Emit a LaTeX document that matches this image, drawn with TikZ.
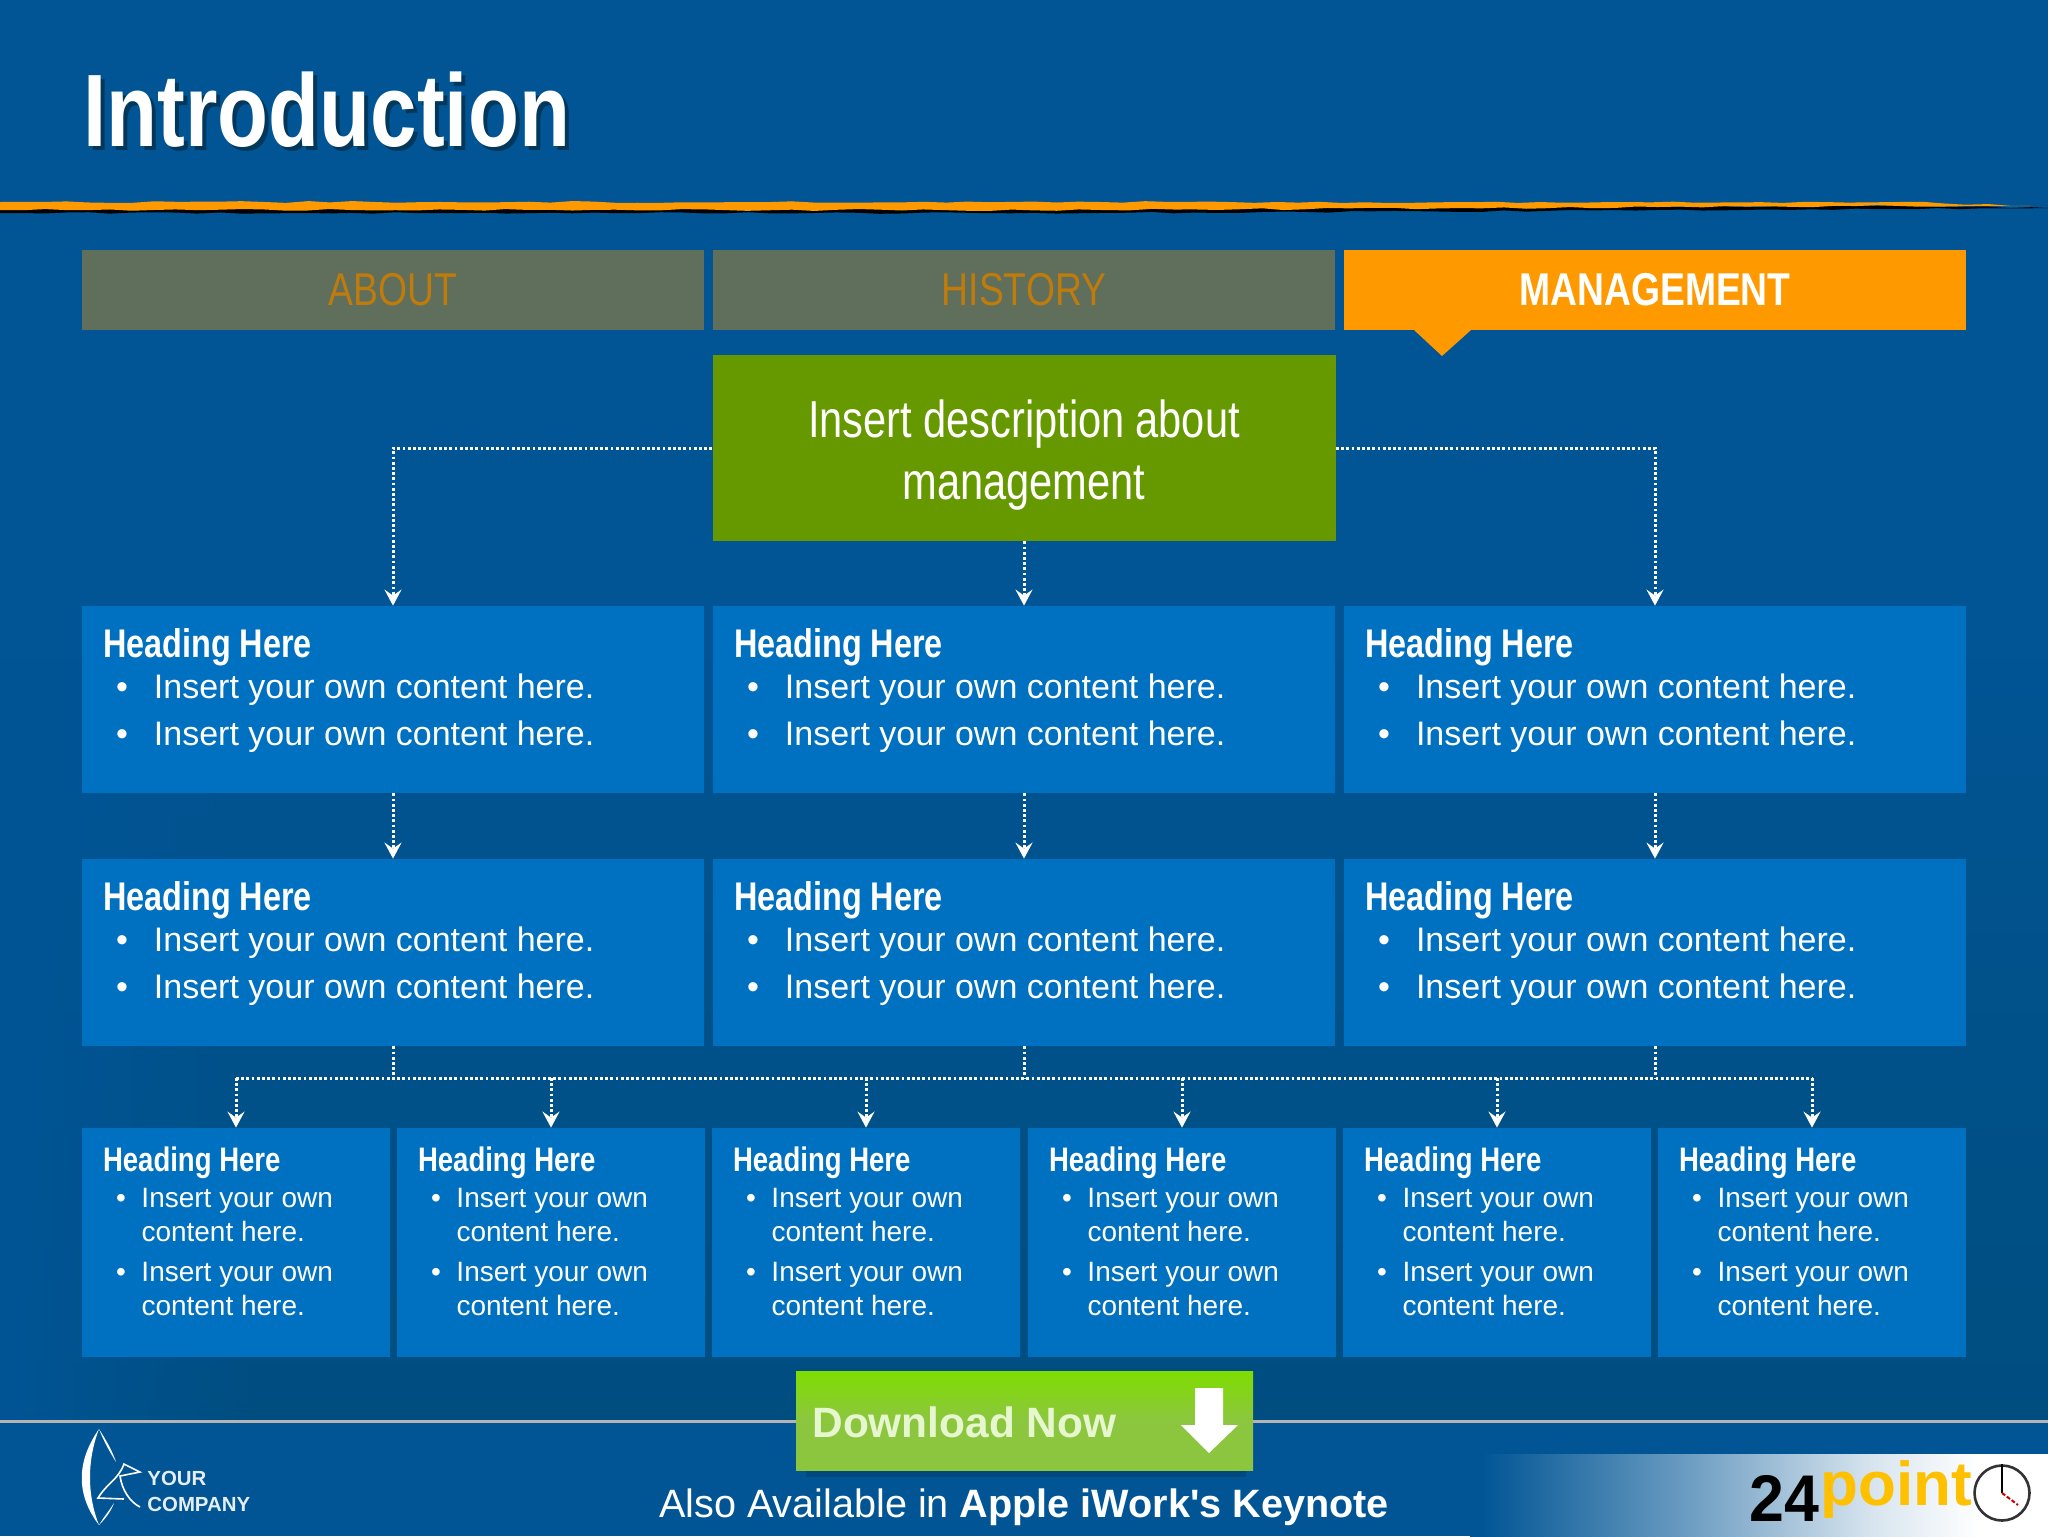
\documentclass[tikz,border=0pt]{standalone}
\usepackage{fontspec}
\usepackage{xcolor}
\usetikzlibrary{arrows.meta, decorations.pathmorphing, fadings}
\setmainfont{Liberation Sans}
\newfontfamily\estrecha[FakeStretch=0.81]{Liberation Sans}
\newfontfamily\masestrecha[FakeStretch=0.80]{Liberation Sans}
\newfontfamily\pocoestrecha[FakeStretch=0.95]{Liberation Sans}
\definecolor{fondo}{HTML}{015595}
\definecolor{fondoosc}{HTML}{004E80}
\definecolor{azulcaja}{HTML}{0070C0}
\definecolor{naranja}{HTML}{FF9900}
\definecolor{gristab}{HTML}{5F6F5C}
\definecolor{textotab}{HTML}{BF7B0C}
\definecolor{verde}{HTML}{669900}
\definecolor{verdearriba}{HTML}{7FDD00}
\definecolor{verdeabajo}{HTML}{8CC63F}
\definecolor{textoboton}{HTML}{E6F6CE}
\definecolor{lineagris}{HTML}{B4B4B4}
\definecolor{amarillo}{HTML}{FFC000}
\colorlet{medio}{fondo!60!white}
\colorlet{claro}{fondo!15!white}
\pgfdeclarehorizontalshading{degradado}{100bp}{color(0bp)=(fondo); color(26bp)=(fondo); color(43bp)=(medio); color(60bp)=(claro); color(69bp)=(white); color(100bp)=(white)}

% --- Texto de las cajas ---
\newlength{\sangria}
\newcommand{\punto}[2]{\par\setlength{\sangria}{#1}\hangindent=\sangria\hangafter=1\noindent\makebox[\sangria][l]{\hspace{6.5pt}\textbullet}#2}
\newcommand{\textocaja}{%
  \fontsize{17}{20.5}\selectfont
  {\rule{0pt}{25.5pt}\estrecha\bfseries\fontsize{20}{20.5}\selectfont Heading Here}%
  \punto{25.5pt}{Insert your own content here.}%
  \parskip=3pt
  \punto{25.5pt}{Insert your own content here.}\par}
\newcommand{\textohoja}{%
  \fontsize{14}{17}\selectfont
  {\rule{0pt}{21.5pt}\estrecha\bfseries\fontsize{17}{17}\selectfont Heading Here}%
  \parskip=1pt
  \punto{19.25pt}{Insert your own\newline content here.}%
  \parskip=3pt
  \punto{19.25pt}{Insert your own\newline content here.}\par}

\begin{document}
\begin{tikzpicture}[
  x=0.5pt, y=-0.5pt,
  pestana/.style={rectangle, fill=gristab, text=textotab, minimum width=311pt, minimum height=40pt,
                 inner sep=0pt, font=\estrecha\fontsize{23}{26}\selectfont},
  desc/.style={rectangle, fill=verde, text=white, minimum width=311.5pt, minimum height=93pt,
                 text width=300pt, align=center, inner sep=0pt, font=\masestrecha\fontsize{26}{31}\selectfont},
  caja/.style={rectangle, fill=azulcaja, text=white, inner xsep=10.5pt, inner ysep=0pt},
  hoja/.style={rectangle, fill=azulcaja, text=white, inner xsep=10.5pt, inner ysep=0pt},
  arr/.style={-{Stealth[length=8pt, width=8.5pt, inset=3pt]}, white, line width=1.5pt, dash pattern=on 1.4pt off 1.2pt},
  lin/.style={white, line width=1.5pt, dash pattern=on 1.4pt off 1.2pt},
]

\useasboundingbox (0,0) rectangle (2048,1536);

% --- Fondo ---
\fill[fondo] (0,0) rectangle (2048,1536);
\shade[top color=fondo, bottom color=fondoosc] (0,600) rectangle (2048,1421);
\fill[fondo, path fading=east] (0,700) rectangle (260,1421);
\shade[shading=degradado] (1470,1454) rectangle (2048,1536);
\draw[lineagris, line width=1.5pt] (0,1421) -- (2048,1421);

% --- Titulo y raya ---
\node[anchor=base west, inner sep=0pt, text=white, font=\estrecha\bfseries\fontsize{51.5}{60}\selectfont] (titulo) at (83,146)
  {\rlap{\textcolor{fondoosc!70!black}{\hspace{2pt}\raisebox{-2pt}{Introduction}}}Introduction};
\pgfmathsetseed{24}
\fill[black, decorate, decoration={random steps, segment length=11pt, amplitude=0.4pt}]
  (0,208) -- (1100,208) -- (1900,206) -- (2048,208) -- (1900,209) -- (1100,213) -- (0,213) -- cycle;
\fill[naranja, decorate, decoration={random steps, segment length=11pt, amplitude=0.5pt}]
  (0,202) -- (1100,202) -- (1900,202) -- (2030,206) -- (1900,206) -- (1100,210) -- (0,210) -- cycle;

% --- Pestanas ---
\node[pestana] (about) at (393,290) {ABOUT};
\node[pestana] (history) at (1024,290) {HISTORY};
\node[pestana, fill=naranja, text=white, font=\estrecha\bfseries\fontsize{23}{26}\selectfont] (management) at (1655,290) {MANAGEMENT};
\fill[naranja] (1414,330) -- (1471,330) -- (1442,356) -- cycle;

% --- Descripcion ---
\node[desc] (descr) at (1024,448) {\spaceskip=5.6pt\rule{0pt}{25.5pt}Insert description about\\management};

% --- Primera fila ---
\node[caja] (c1) at (393,699.5) {\parbox[c][93.5pt][t]{290pt}{\textocaja}};
\node[caja] (c2) at (1024,699.5) {\parbox[c][93.5pt][t]{290pt}{\textocaja}};
\node[caja] (c3) at (1655,699.5) {\parbox[c][93.5pt][t]{290pt}{\textocaja}};

% --- Segunda fila ---
\node[caja] (d1) at (393,952.5) {\parbox[c][93.5pt][t]{290pt}{\textocaja}};
\node[caja] (d2) at (1024,952.5) {\parbox[c][93.5pt][t]{290pt}{\textocaja}};
\node[caja] (d3) at (1655,952.5) {\parbox[c][93.5pt][t]{290pt}{\textocaja}};

% --- Hojas ---
\node[hoja] (h1) at (236,1242.5) {\parbox[c][114.5pt][t]{133pt}{\textohoja}};
\node[hoja] (h2) at (551,1242.5) {\parbox[c][114.5pt][t]{133pt}{\textohoja}};
\node[hoja] (h3) at (866,1242.5) {\parbox[c][114.5pt][t]{133pt}{\textohoja}};
\node[hoja] (h4) at (1182,1242.5) {\parbox[c][114.5pt][t]{133pt}{\textohoja}};
\node[hoja] (h5) at (1497,1242.5) {\parbox[c][114.5pt][t]{133pt}{\textohoja}};
\node[hoja] (h6) at (1812,1242.5) {\parbox[c][114.5pt][t]{133pt}{\textohoja}};

% --- Enlaces desde la descripcion ---
\draw[arr] (descr.west) -| (c1.north);
\draw[arr] (descr.south) -- (c2.north);
\draw[arr] (descr.east) -| (c3.north);

% --- Enlaces entre filas ---
\draw[arr] (c1) -- (d1);
\draw[arr] (c2) -- (d2);
\draw[arr] (c3) -- (d3);

% --- Barra hacia las hojas ---
\coordinate (bus) at (1024,1078);
\draw[lin] (d1.south) -- (d1.south |- bus);
\draw[lin] (d2.south) -- (d2.south |- bus);
\draw[lin] (d3.south) -- (d3.south |- bus);
\draw[lin] (h1.north |- bus) -- (h6.north |- bus);
\draw[arr] (h1.north |- bus) -- (h1.north);
\draw[arr] (h2.north |- bus) -- (h2.north);
\draw[arr] (h3.north |- bus) -- (h3.north);
\draw[arr] (h4.north |- bus) -- (h4.north);
\draw[arr] (h5.north |- bus) -- (h5.north);
\draw[arr] (h6.north |- bus) -- (h6.north);

% --- Boton ---
\fill[fondoosc!75!black, opacity=0.45] (806,1470) rectangle (1246,1477);
\shade[top color=verdearriba, bottom color=verdeabajo, middle color=verdeabajo] (796,1371) rectangle (1253,1470);
\node[anchor=base west, inner sep=0pt, text=textoboton, font=\bfseries\fontsize{21.2}{25}\selectfont] (boton) at (812,1437) {Download Now};
\fill[white] (1195,1388) -- (1223,1388) -- (1223,1425) -- (1238,1425) -- (1209,1453) -- (1181,1425) -- (1195,1425) -- cycle;

% --- Pie ---
\node[anchor=base, inner sep=0pt, text=white, font=\fontsize{19.8}{24}\selectfont] (pie) at (1024,1517)
  {Also Available in \textbf{Apple iWork\textquotesingle s Keynote}};

% --- Logo empresa ---
\fill[white] (99,1429) .. controls (76,1462) and (76,1495) .. (99,1525) .. controls (87,1495) and (87,1460) .. (99,1429) -- cycle;
\fill[white] (99,1429) .. controls (106,1440) and (112,1450) .. (116,1462) .. controls (110,1452) and (104,1442) .. (99,1429) -- cycle;
\fill[white] (99,1525) .. controls (104,1520) and (111,1512) .. (114,1503) .. controls (109,1511) and (103,1518) .. (99,1525) -- cycle;
\draw[white, line width=0.8pt] (124,1499) -- (98,1498) .. controls (108,1482) and (118,1480) .. (124,1464) -- (140,1472) -- (120,1476) .. controls (122,1490) and (130,1502) .. (140,1507);
\node[anchor=base west, inner sep=0pt, text=white!90!fondo, align=left, font=\bfseries\fontsize{10.2}{13}\selectfont] (empresa) at (147,1511)
  {YOUR\\COMPANY};

% --- Logo 24point ---
\node[anchor=base west, inner sep=0pt, text=black, font=\pocoestrecha\bfseries\fontsize{33}{36}\selectfont] (veinte) at (1749,1521) {24};
\node[anchor=base west, inner sep=0pt, text=amarillo, font=\bfseries\fontsize{31}{36}\selectfont] (point) at (1820,1505) {point};
\node[circle, draw=black!80, line width=1.3pt, fill=white, minimum size=27.5pt, inner sep=0pt] (reloj) at (2002,1493) {};
\draw[black, line width=1pt] (reloj.north) -- (reloj.center);
\draw[red!80!black, line width=1pt, dash pattern=on 2pt off 1pt] (reloj.center) -- (2018,1505);

\end{tikzpicture}
\end{document}
